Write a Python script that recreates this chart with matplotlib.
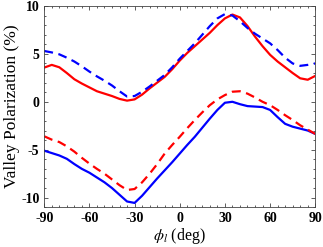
import matplotlib
matplotlib.use("Agg")
import matplotlib.pyplot as plt
import numpy as np
from matplotlib.ticker import MultipleLocator

plt.rcParams['mathtext.fontset'] = 'stix'
plt.rcParams['axes.unicode_minus'] = False

phi = list(range(-90, 91, 5))
red_solid = [3.57, 3.85, 3.6, 3.0, 2.35, 1.9, 1.5, 1.1, 0.85, 0.6, 0.3, 0.12, 0.25, 0.75, 1.4, 2.0, 2.6, 3.4,
             4.3, 5.1, 5.8, 6.5, 7.2, 8.0, 8.7, 9.1, 8.8, 7.9, 6.8, 5.8, 4.9, 4.2, 3.6, 3.0, 2.45, 2.3, 2.7]
blue_dashed = [5.3, 5.15, 4.95, 4.6, 4.2, 3.7, 3.15, 2.65, 2.2, 1.7, 1.1, 0.55, 0.6, 1.05, 1.6, 2.2, 2.8, 3.6,
               4.5, 5.3, 6.1, 7.0, 7.9, 8.7, 9.15, 9.0, 8.4, 7.7, 7.1, 6.6, 6.1, 5.4, 4.6, 4.0, 3.75, 3.85, 4.0]
blue_solid = [-5.1, -5.35, -5.6, -5.95, -6.5, -7.0, -7.4, -7.9, -8.4, -9.0, -9.7, -10.4, -10.55, -9.8, -8.9, -8.0,
              -7.15, -6.3, -5.4, -4.5, -3.65, -2.7, -1.75, -0.85, -0.1, 0.0, -0.25, -0.45, -0.5, -0.55, -0.85,
              -1.6, -2.3, -2.6, -2.8, -3.0, -3.35]
red_dashed = [-3.6, -3.95, -4.2, -4.65, -5.2, -5.85, -6.45, -7.0, -7.5, -8.1, -8.7, -9.2, -9.1, -8.4, -7.5, -6.5,
              -5.4, -4.5, -3.65, -2.75, -1.9, -1.1, -0.35, 0.25, 0.7, 1.05, 1.1, 0.85, 0.45, 0.0, -0.35, -0.85,
              -1.4, -1.9, -2.45, -2.9, -3.35]
xticks = [-90, -60, -30, 0, 30, 60, 90]
yticks = [-10, -5, 0, 5, 10]

fig = plt.figure(figsize=(3.23, 2.47), dpi=100)
ax = fig.add_axes([0.137, 0.161, 0.839, 0.815])
lw = 1.6
ax.plot(phi, red_solid, color=(1, 0, 0), lw=lw)
ax.plot(phi, blue_dashed, color=(0, 0, 1), lw=lw, ls=(0, (4, 2.5)))
ax.plot(phi, blue_solid, color=(0, 0, 1), lw=lw)
ax.plot(phi, red_dashed, color=(1, 0, 0), lw=lw, ls=(0, (4, 2.5)))

ax.set_xlim(-90, 90)
ax.set_ylim(-11, 10)
ax.set_xticks(xticks)
ax.set_yticks(yticks)
ax.xaxis.set_minor_locator(MultipleLocator(5))
ax.yaxis.set_minor_locator(MultipleLocator(1))
ax.tick_params(which='both', direction='in', top=True, right=True, color='#444444', width=0.6)
ax.tick_params(which='major', length=3)
ax.tick_params(which='minor', length=1.5)
for lab in ax.get_xticklabels() + ax.get_yticklabels():
    lab.set_fontfamily('Liberation Serif')
    lab.set_fontweight('bold')
    lab.set_fontsize(10)
for s in ax.spines.values():
    s.set_color('#444444')
    s.set_linewidth(0.6)
ax.set_xlabel(r'$\phi_l$ (deg)', fontfamily='Liberation Serif', fontsize=11.5, labelpad=1)
ax.set_ylabel('Valley Polarization (%)', fontfamily='Liberation Serif', fontsize=12.5, labelpad=1)
fig.savefig('out.png', dpi=100)
